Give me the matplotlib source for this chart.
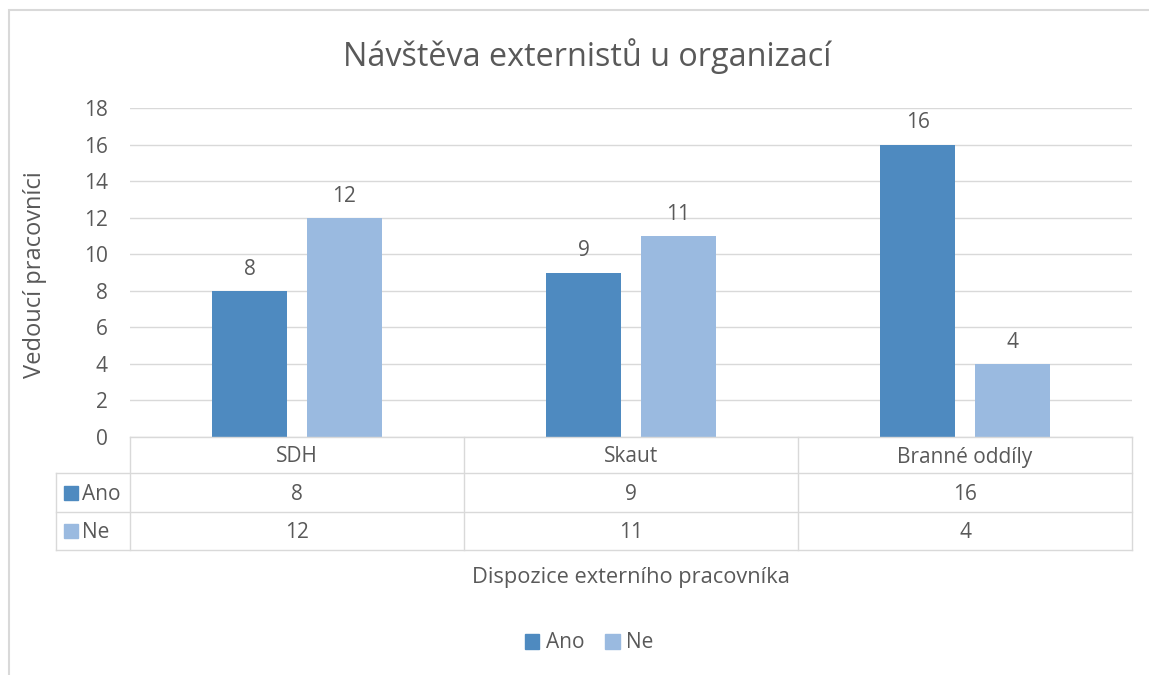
import matplotlib.pyplot as plt
import numpy as np
from matplotlib.lines import Line2D
from matplotlib.patches import Rectangle

categories = ['SDH', 'Skaut', 'Branné oddíly']
series = ['Ano', 'Ne']
ano = [8, 9, 16]
ne = [12, 11, 4]
colors = ['#4E8AC0', '#9ABAE0']
grid_c = '#D9D9D9'
txt_c = '#595959'

plt.rcParams['font.family'] = ['Open Sans', 'DejaVu Sans']

W, H = 1149, 675
fig = plt.figure(figsize=(W / 100, H / 100), dpi=100)
fs = 15


def fx(x):
    return x / W


def fy(y):
    return 1 - y / H


def hline(y, x0, x1):
    fig.add_artist(Line2D([fx(x0), fx(x1)], [fy(y), fy(y)], color=grid_c, lw=1))


def vline(x, y0, y1):
    fig.add_artist(Line2D([fx(x), fx(x)], [fy(y0), fy(y1)], color=grid_c, lw=1))


# outer frame of the chart
fig.add_artist(Rectangle((fx(9), fy(700)), fx(1200), fy(10) - fy(700),
                         fill=False, edgecolor=grid_c, lw=1.5))

x_left, x_right, y_top, y_bot = 130, 1132, 108, 437
ax = fig.add_axes([fx(x_left), fy(y_bot), fx(x_right - x_left), fy(y_top) - fy(y_bot)])

x = np.arange(len(categories))
w = 0.224
gap = 0.06
for i, (vals, c) in enumerate(zip([ano, ne], colors)):
    pos = x + (i - 0.5) * (w + gap)
    bars = ax.bar(pos, vals, width=w, color=c, zorder=3)
    for b, v in zip(bars, vals):
        ax.annotate(str(v), (b.get_x() + b.get_width() / 2, v), xytext=(0, 8),
                    textcoords='offset points', ha='center', va='bottom',
                    fontsize=fs, color=txt_c)

ax.set_xlim(-0.5, len(categories) - 0.5)
ax.set_ylim(0, 18)
ax.set_yticks(range(0, 19, 2))
ax.yaxis.grid(True, color=grid_c, lw=1)
ax.set_axisbelow(True)
for s in ax.spines.values():
    s.set_visible(False)
ax.tick_params(axis='y', length=0, labelsize=fs, labelcolor=txt_c, pad=16)
ax.set_xticks([])
fig.text(fx(35), fy(275), 'Vedoucí pracovníci', rotation=90, ha='center', va='center',
         fontsize=17, color=txt_c)

# data table below the axes
cell_w = (x_right - x_left) / len(categories)
rows_y = [437, 473, 512, 550]
hline(rows_y[0], x_left, x_right)
for yy in rows_y[1:]:
    hline(yy, 56, x_right)
vline(56, rows_y[1], rows_y[-1])
for j in range(len(categories) + 1):
    vline(x_left + j * cell_w, rows_y[0], rows_y[-1])

for j, cat in enumerate(categories):
    fig.text(fx(x_left + (j + 0.5) * cell_w), fy((rows_y[0] + rows_y[1]) / 2 + 2), cat,
             ha='center', va='center', fontsize=fs, color=txt_c)
for r, (name, vals, c) in enumerate(zip(series, [ano, ne], colors)):
    yc = (rows_y[r + 1] + rows_y[r + 2]) / 2
    fig.add_artist(Rectangle((fx(64), fy(yc + 7)), fx(14), fy(yc - 7) - fy(yc + 7), color=c))
    fig.text(fx(82), fy(yc + 2), name, ha='left', va='center', fontsize=fs, color=txt_c)
    for j, v in enumerate(vals):
        fig.text(fx(x_left + (j + 0.5) * cell_w), fy(yc + 2), str(v),
                 ha='center', va='center', fontsize=fs, color=txt_c)

fig.text(fx(631), fy(577), 'Dispozice externího pracovníka', ha='center', va='center',
         fontsize=15.7, color=txt_c)
fig.text(fx(587), fy(56), 'Návštěva externistů u organizací', ha='center', va='center',
         fontsize=23.3, color=txt_c)

# legend
handles = [Rectangle((0, 0), 1, 1, color=c) for c in colors]
fig.legend(handles, series, loc='center', bbox_to_anchor=(fx(589), fy(643)), ncol=2,
           frameon=False, fontsize=fs, handlelength=0.7, handleheight=0.7,
           handletextpad=0.3, columnspacing=1.0, labelcolor=txt_c)

fig.savefig('out.png', dpi=100)
